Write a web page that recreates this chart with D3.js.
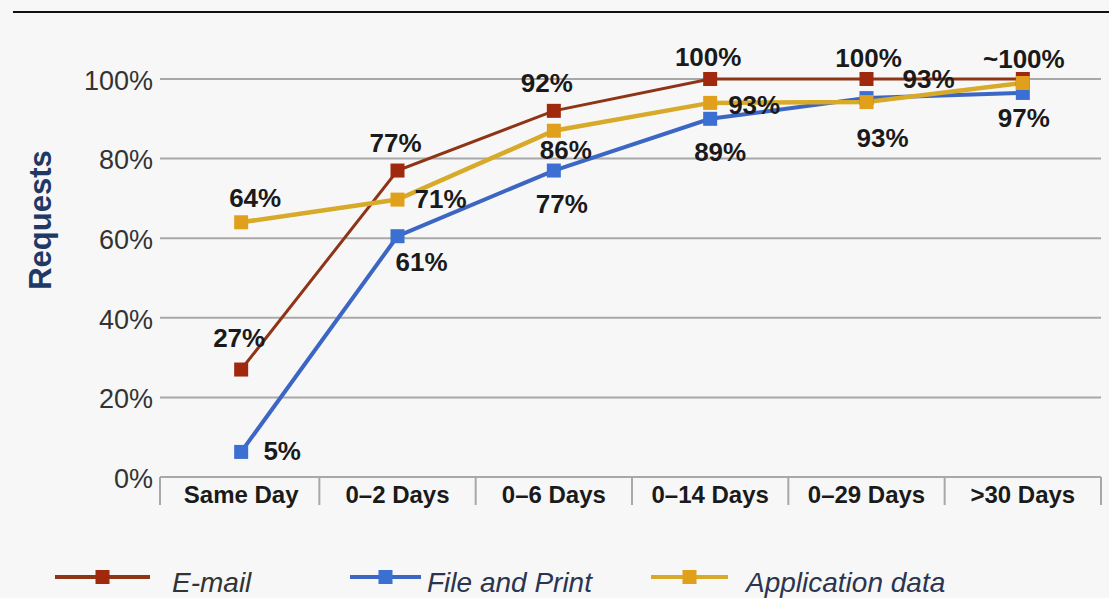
<!DOCTYPE html>
<html>
<head>
<meta charset="utf-8">
<script src="https://cdn.jsdelivr.net/npm/d3@7"></script>
<style>
  html, body { margin: 0; padding: 0; background: #f7f7f7; }
  svg { display: block; font-family: Arial, "Liberation Sans", sans-serif; }
</style>
</head>
<body>
<svg id="chart" width="1109" height="598"></svg>
<script>
// ---- data ----
const categories = ["Same Day", "0\u20132 Days", "0\u20136 Days", "0\u201314 Days", "0\u201329 Days", ">30 Days"];
const emailValues = [27, 77, 92, 100, 100, 100];
const fileValues  = [6.3, 60.5, 77, 90, 95.2, 96.5];
const appValues   = [64, 69.7, 87, 94, 94.2, 99];
const emailLabels = ["27%", "77%", "92%", "100%", "100%", "~100%"];
const fileLabels  = ["5%", "61%", "77%", "89%", "93%", "97%"];
const appLabels   = ["64%", "71%", "86%", "93%", "93%", ""];
const yTicks = [0, 20, 40, 60, 80, 100];
const seriesNames = ["E-mail", "File and Print", "Application data"];

// label placement offsets relative to the marker (layout only)
const emailLabelPos = [[-2, -23], [-2, -19], [-7, -19], [-2, -13], [2, -12], [1, -11]];
const fileLabelPos  = [[41, 8], [24, 35], [8, 42], [10, 42], [62, -10], [1, 34]];
const appLabelPos   = [[14, -15], [43, 8], [12, 28], [44, 11], [16, 45], [0, 0]];

const colors = {
  email: { line: "#8e3417", marker: "#a0280c" },
  file:  { line: "#3c66c4", marker: "#3b6fd2" },
  app:   { line: "#d8aa2a", marker: "#e0a01c" }
};

const svg = d3.select("#chart");
const plot = { left: 160, right: 1101, top: 79, bottom: 477 };

const x = d3.scaleBand().domain(categories).range([163, plot.right]).padding(0);
const y = d3.scaleLinear().domain([0, 100]).range([plot.bottom, plot.top]);
const cx = d => x(d) + x.bandwidth() / 2;

// top border line
svg.append("line").attr("x1", 13).attr("x2", 1109).attr("y1", 12).attr("y2", 12)
  .attr("stroke", "#111").attr("stroke-width", 2);

// gridlines
svg.append("g").selectAll("line").data(yTicks.filter(t => t > 0)).join("line")
  .attr("x1", plot.left).attr("x2", plot.right)
  .attr("y1", d => y(d)).attr("y2", d => y(d))
  .attr("stroke", "#a8a8a8").attr("stroke-width", 2);

// y axis tick labels
const yAxis = d3.axisLeft(y).tickValues(yTicks).tickFormat(d => d + "%").tickSize(0).tickPadding(7);
const gy = svg.append("g").attr("transform", `translate(${plot.left},0)`).call(yAxis);
gy.select(".domain").remove();
gy.selectAll("text").attr("font-size", 27).attr("fill", "#333")
  .attr("font-family", "Arial, 'Liberation Sans', sans-serif").attr("dy", "0.38em");

// x axis: baseline + separators
svg.append("line").attr("x1", plot.left).attr("x2", plot.right)
  .attr("y1", y(0)).attr("y2", y(0)).attr("stroke", "#a8a8a8").attr("stroke-width", 2);
const bounds = [plot.left].concat(categories.slice(1).map(c => x(c))).concat([plot.right]);
svg.append("g").selectAll("line").data(bounds).join("line")
  .attr("x1", d => d).attr("x2", d => d).attr("y1", y(0)).attr("y2", y(0) + 28)
  .attr("stroke", "#a8a8a8").attr("stroke-width", 2);
svg.append("g").selectAll("text").data(categories).join("text")
  .attr("x", d => cx(d)).attr("y", y(0) + 26)
  .attr("text-anchor", "middle").attr("font-size", 24).attr("font-weight", "bold")
  .attr("fill", "#1a1a1a").text(d => d);

// y axis title
svg.append("text").attr("transform", "translate(51,220) rotate(-90)")
  .attr("text-anchor", "middle").attr("font-size", 31).attr("font-weight", "bold")
  .attr("fill", "#1f3864").text("Requests");

// series
const series = [
  { key: "email", values: emailValues, labels: emailLabels, pos: emailLabelPos, width: 3 },
  { key: "file",  values: fileValues,  labels: fileLabels,  pos: fileLabelPos,  width: 4 },
  { key: "app",   values: appValues,   labels: appLabels,   pos: appLabelPos,   width: 4.5 }
];

const line = d3.line().x(d => cx(d.c)).y(d => y(d.v));

series.forEach(s => {
  const pts = categories.map((c, i) => ({ c, v: s.values[i] }));
  svg.append("path").datum(pts).attr("d", line)
    .attr("fill", "none").attr("stroke", colors[s.key].line).attr("stroke-width", s.width);
});
series.forEach(s => {
  const pts = categories.map((c, i) => ({ c, v: s.values[i] }));
  svg.append("g").selectAll("rect").data(pts).join("rect")
    .attr("x", d => cx(d.c) - 7).attr("y", d => y(d.v) - 7)
    .attr("width", 14).attr("height", 14).attr("fill", colors[s.key].marker);
});
series.forEach(s => {
  const pts = categories.map((c, i) => ({ c, v: s.values[i], t: s.labels[i], p: s.pos[i] }));
  svg.append("g").selectAll("text").data(pts.filter(d => d.t)).join("text")
    .attr("x", d => cx(d.c) + d.p[0]).attr("y", d => y(d.v) + d.p[1])
    .attr("text-anchor", "middle").attr("font-size", 26).attr("font-weight", "bold")
    .attr("fill", "#1a1a1a").text(d => d.t);
});

// legend
const legendItems = [
  { name: seriesNames[0], key: "email", x1: 55, x2: 150, tx: 172, tc: "#333" },
  { name: seriesNames[1], key: "file",  x1: 350, x2: 421, tx: 427, tc: "#2b3550" },
  { name: seriesNames[2], key: "app",   x1: 651, x2: 728, tx: 746, tc: "#2b3550" }
];
const lg = svg.append("g");
legendItems.forEach(it => {
  const ly = 577;
  lg.append("line").attr("x1", it.x1).attr("x2", it.x2).attr("y1", ly).attr("y2", ly)
    .attr("stroke", colors[it.key].line).attr("stroke-width", 4);
  lg.append("rect").attr("x", (it.x1 + it.x2) / 2 - 7).attr("y", ly - 7)
    .attr("width", 14).attr("height", 14).attr("fill", colors[it.key].marker);
  lg.append("text").attr("x", it.tx).attr("y", 592)
    .attr("font-size", 28).attr("font-style", "italic").attr("fill", it.tc).text(it.name);
});
</script>
</body>
</html>
